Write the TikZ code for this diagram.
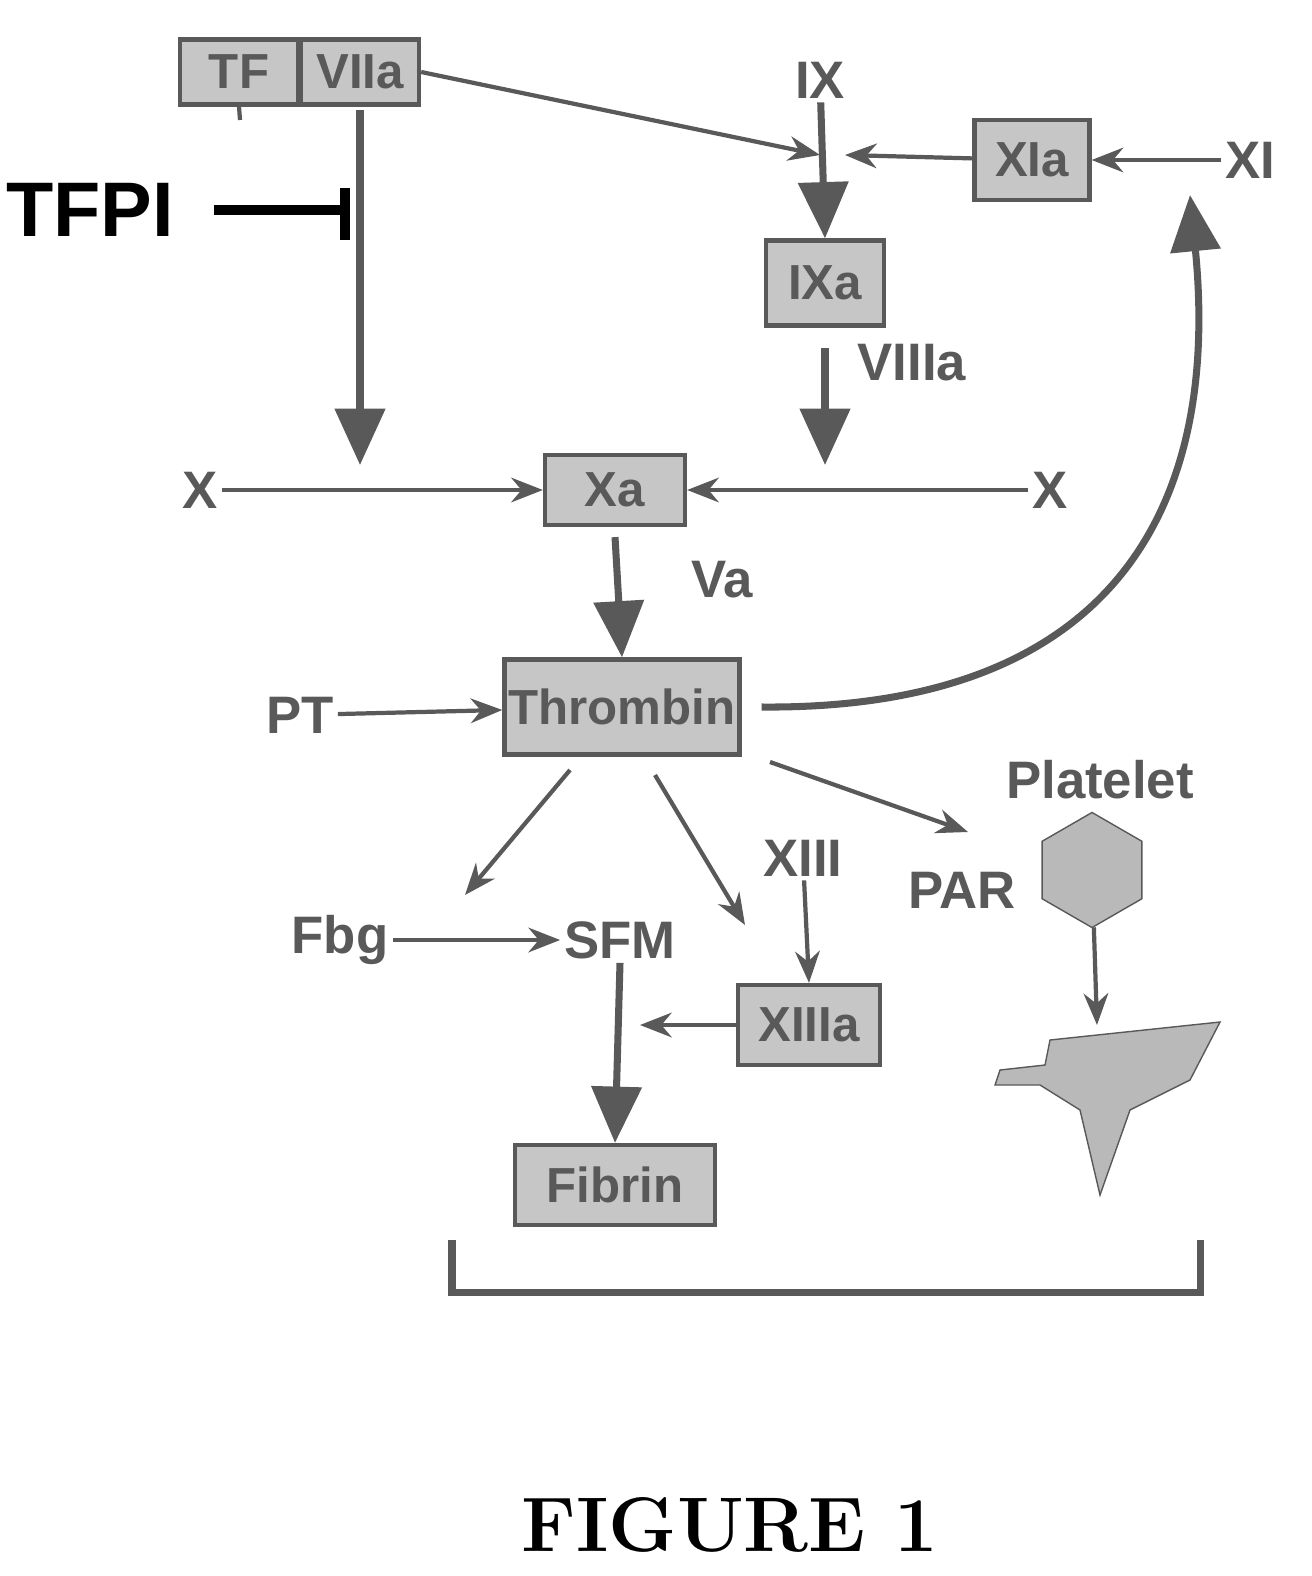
\documentclass[tikz,border=0pt]{standalone}
\usepackage{fontspec}
\setsansfont{Liberation Sans}
\usetikzlibrary{positioning, shapes.geometric, arrows.meta}
\definecolor{ink}{gray}{0.35}
\tikzset{
  fac/.style={draw=ink, line width=1.2pt, fill=gray!45, text=ink, font=\sffamily\bfseries\fontsize{14}{16}\selectfont, inner sep=0pt},
  lab/.style={text=ink, font=\sffamily\bfseries\fontsize{15}{17}\selectfont, inner sep=1pt},
  thin/.style={draw=ink, line width=1.2pt, -{Stealth[length=9pt,width=7pt]}},
  big/.style={draw=ink, line width=2pt, -{Triangle[length=16pt,width=14pt]}}
}
\begin{document}
\begin{tikzpicture}[x=0.01cm, y=-0.01cm]
\useasboundingbox (0,0) rectangle (1311,1576);
% factor boxes
\node (tf) [fac, minimum width=1.18cm, minimum height=0.65cm] at (239,72) {TF};
\node (viia) [fac, minimum width=1.18cm, minimum height=0.65cm] at (360,72) {VIIa};
\node (xia) [fac, minimum width=1.15cm, minimum height=0.8cm] at (1032,160) {XIa};
\node (ixa) [fac, minimum width=1.18cm, minimum height=0.85cm] at (825,283) {IXa};
\node (xa) [fac, minimum width=1.4cm, minimum height=0.7cm] at (615,490) {Xa};
\node (thr) [fac, minimum width=2.35cm, minimum height=0.95cm] at (622,707) {Thrombin};
\node (xiiia) [fac, minimum width=1.42cm, minimum height=0.8cm] at (809,1025) {XIIIa};
\node (fib) [fac, minimum width=2cm, minimum height=0.8cm] at (615,1185) {Fibrin};
% labels
\node (ix) [lab] at (820,80) {IX};
\node (xi) [lab] at (1250,160) {XI};
\node (tfpi) [font=\sffamily\bfseries\fontsize{22}{24}\selectfont] at (90,210) {TFPI};
\node (viiia) [lab] at (912,363) {VIIIa};
\node (xl) [lab] at (200,490) {X};
\node (xr) [lab] at (1050,490) {X};
\node (va) [lab] at (722,580) {Va};
\node (pt) [lab] at (300,715) {PT};
\node (plt) [lab] at (1100,780) {Platelet};
\node (par) [lab] at (962,890) {PAR};
\node (xiii) [lab] at (803,858) {XIII};
\node (fbg) [lab] at (340,940) {Fbg};
\node (sfm) [lab] at (620,940) {SFM};
\node (hex) [regular polygon, regular polygon sides=6, shape border rotate=30, fill=gray!55, draw=ink, inner sep=0pt, minimum size=1.15cm] at (1092,870) {};
\node (fig) [font=\rmfamily\bfseries\fontsize{22}{24}\selectfont] at (730,1525) {FIGURE 1};
% free ends
\coordinate (ixj) at (820,155);
\coordinate (ixr) at (845,155);
\coordinate (xj) at (360,465);
\coordinate (tick) at (240,120);
\coordinate (fbgend) at (465,895);
\coordinate (xiiiend) at (745,925);
\coordinate (parend) at (968,832);
\coordinate (sfmend) at (640,1025);
\coordinate (pltend) at (1097,1025);
% connectors
\draw [thin] (viia.east) -- (ixj);
\draw [big] (ix) -- (ixa.north);
\draw [thin] (xia) -- (ixr);
\draw [thin] (xi) -- (xia);
\draw [ink, line width=1.2pt] (tf.south) -- (tick);
\draw [black, line width=3pt] (tfpi.east) ++(28,0) -- (345,210);
\draw [black, line width=3pt] (345,188) -- (345,240);
\draw [big] (360,110) -- (xj);
\draw [big] (ixa.south) ++(0,20) -- (825,465);
\draw [thin] (xl) -- (xa);
\draw [thin] (xr) -- (xa);
\draw [big] (xa.south) ++(0,10) -- (thr.north);
\draw [thin] (pt) -- (thr);
\draw [big] (thr.east) ++(20,0) .. controls (1120,710) and (1220,500) .. (1190,195);
\draw [thin] (770,762) -- (parend);
\draw [thin] (570,770) -- (fbgend);
\draw [thin] (655,775) -- (xiiiend);
\draw [thin] (xiii) -- (xiiia.north);
\draw [thin] (fbg) -- (sfm);
\draw [thin] (xiiia) -- (sfmend);
\draw [big] (sfm.south) -- (fib.north);
\draw [thin] (hex) -- (pltend);
% activated platelet
\fill [gray!55, draw=ink] (1000,1070) -- (1045,1065) -- (1050,1040) -- (1220,1022) -- (1190,1080) -- (1130,1110) -- (1100,1195) -- (1080,1110) -- (1040,1085) -- (995,1085) -- cycle;
% bracket
\draw [ink, line width=2pt] (452,1240) -- (452,1292) -- (1200,1292) -- (1200,1240);
\end{tikzpicture}
\end{document}
